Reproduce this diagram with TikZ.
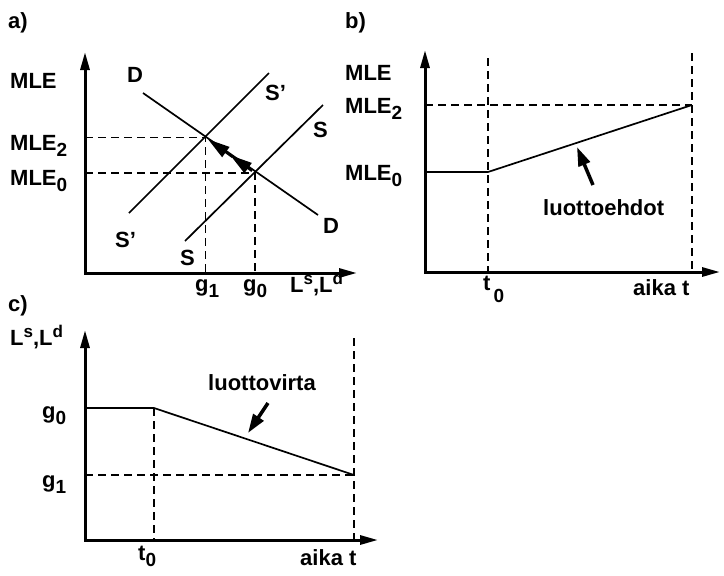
\documentclass[tikz,border=0pt]{standalone}
\usepackage{fontspec}
\setmainfont{Liberation Sans}
\usetikzlibrary{arrows.meta,calc}
\newcommand{\lowix}[1]{\raisebox{-6pt}{\fontsize{19}{19}\selectfont #1}}
\newcommand{\highix}[1]{\raisebox{8pt}{\fontsize{17}{17}\selectfont #1}}

\begin{document}
\begin{tikzpicture}[x=1pt,y=-1pt,>={Triangle[length=18pt,width=9pt]},
  axis/.style={line width=3pt,<->},
  curve/.style={line width=1.7pt},
  guide/.style={line width=1.5pt,dash pattern=on 8pt off 5pt},
  hint/.style={line width=3.5pt,-{Triangle[length=19pt,width=12pt]}},
  barb/.style={line width=2.5pt,-{Triangle[length=22pt,width=12pt]}},
  lbl/.style={anchor=base west,inner sep=0pt,font=\fontsize{22}{24}\selectfont\bfseries}]
\useasboundingbox (0,0) rectangle (724,576);

% a) market
\coordinate (ya) at (85,52); \coordinate (oa) at (85,273); \coordinate (xa) at (357,273);
\coordinate (E1) at (205.5,137.5); \coordinate (E0) at (255,173);
\coordinate (Dt) at (143,93); \coordinate (Db) at (318,215);
\coordinate (Spt) at (269,73); \coordinate (Spb) at (129,213);
\coordinate (St) at (323,105); \coordinate (Sb) at (185,241);
\draw[axis] (ya) |- (xa);
\foreach \a/\b in {Dt/Db,Spb/Spt,Sb/St} \draw[curve] (\a)--(\b);
\foreach \p in {E1,E0} \draw[guide] (oa |- \p) -| (oa -| \p);
\coordinate (Em) at ($(E0)!0.5!(E1)$);
\draw[barb] ($(E0)!0.06!(E1)$) -- (Em);
\draw[barb] ($(E0)!0.45!(E1)$) -- ($(E0)!0.95!(E1)$);
\node[lbl] (la) at (8,28) {a)};
\node[lbl] (mlea) at (10,88) {MLE};
\node[lbl] (mle2a) at (10,150) {MLE\lowix{2}};
\node[lbl] (mle0a) at (10,185) {MLE\lowix{0}};
\node[lbl] (dt) at (127,82) {D};
\node[lbl] (db) at (323,233) {D};
\node[lbl] (spt) at (265,100) {S'};
\node[lbl] (spb) at (115,247) {S'};
\node[lbl] (st) at (313,137) {S};
\node[lbl] (sb) at (180,265) {S};
\node[lbl] (g1a) at (195,291) {g\lowix{1}};
\node[lbl] (g0a) at (243,291) {g\lowix{0}};
\node[lbl] (La) at (290,292) {L\highix{s},L\highix{d}};

% b) credit terms over time
\coordinate (yb) at (425,50); \coordinate (ob) at (425,272); \coordinate (xb) at (720,272);
\coordinate (Tb) at (488,58); \coordinate (Eb) at (692,53);
\coordinate (M0) at (425,172); \coordinate (K0) at (488,172);
\coordinate (M2) at (425,105); \coordinate (K2) at (692,105);
\draw[axis] (yb) |- (xb);
\draw[guide] (Tb) -- (Tb |- ob);
\draw[guide] (Eb) -- (Eb |- ob);
\draw[guide] (M2) -- (K2);
\draw[curve] (M0) -- (K0) -- (K2);
\coordinate (ab) at (593,185); \coordinate (hb) at (577,147);
\draw[hint] (ab) -- (hb);
\node[lbl] (lb) at (345,28) {b)};
\node[lbl] (mleb) at (345,80) {MLE};
\node[lbl] (mle2b) at (345,113) {MLE\lowix{2}};
\node[lbl] (mle0b) at (345,180) {MLE\lowix{0}};
\node[lbl] (terms) at (543,215) {luottoehdot};
\node[lbl] (t0b) at (483,290) {t\hspace{3pt}\raisebox{-12pt}{\fontsize{19}{19}\selectfont 0}};
\node[lbl] (tb) at (633,295) {aika t};

% c) credit flow over time
\coordinate (yc) at (85,330); \coordinate (oc) at (85,540); \coordinate (xc) at (378,540);
\coordinate (G0) at (85,408); \coordinate (H0) at (154,408);
\coordinate (G1) at (85,475); \coordinate (H1) at (354,475);
\coordinate (Ec) at (354,338);
\draw[axis] (yc) |- (xc);
\draw[guide] (H0) -- (H0 |- oc);
\draw[guide] (G1) -- (H1);
\draw[guide] (Ec) -- (Ec |- oc);
\draw[curve] (G0) -- (H0) -- (H1);
\coordinate (ac) at (268,403); \coordinate (hc) at (248,433);
\draw[hint] (ac) -- (hc);
\node[lbl] (lc) at (8,311) {c)};
\node[lbl] (Lc) at (10,345) {L\highix{s},L\highix{d}};
\node[lbl] (g0c) at (42,418) {g\lowix{0}};
\node[lbl] (g1c) at (42,487) {g\lowix{1}};
\node[lbl] (flow) at (208,390) {luottovirta};
\node[lbl] (t0c) at (138,560) {t\lowix{0}};
\node[lbl] (tc) at (300,565) {aika t};
\end{tikzpicture}
\end{document}
